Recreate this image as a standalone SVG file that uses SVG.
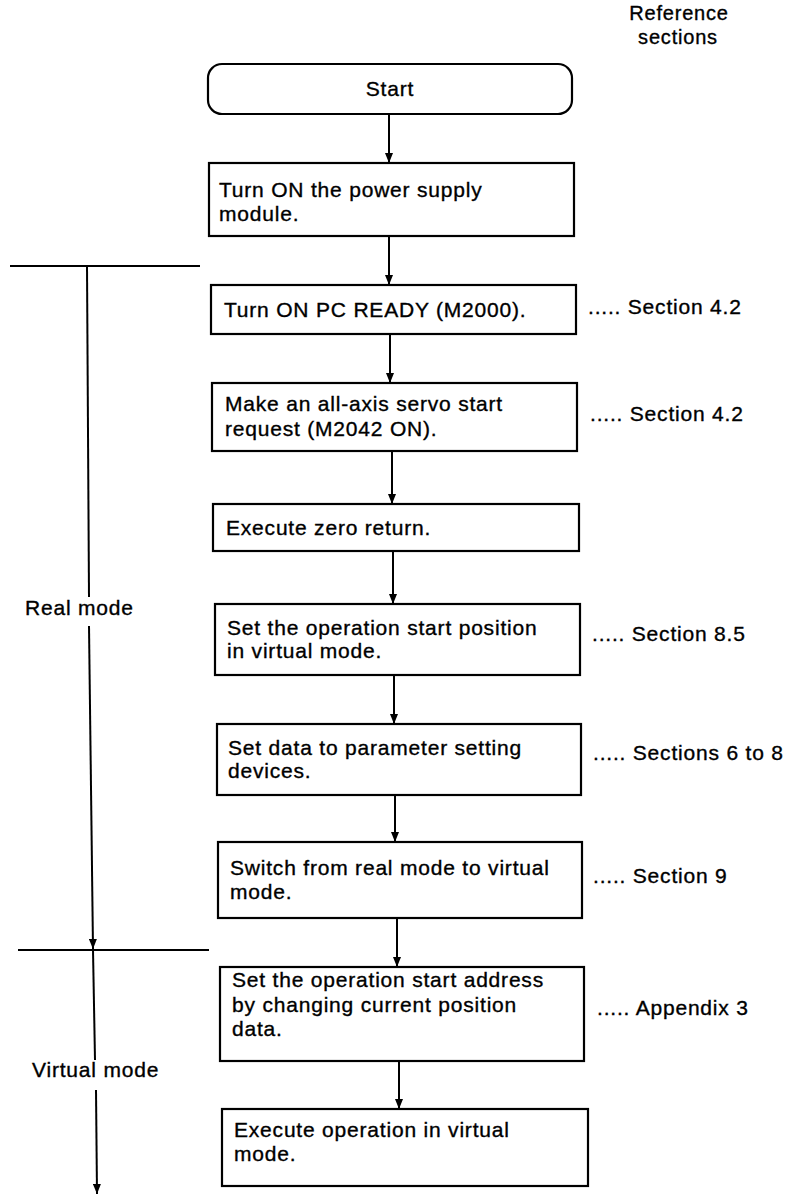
<svg xmlns="http://www.w3.org/2000/svg" width="786" height="1196" viewBox="0 0 786 1196">
  <style>
    .box { fill: #fff; stroke: #000; stroke-width: 2.2; }
    .txt { font-family: "Liberation Sans", Arial, Helvetica, sans-serif; font-size: 21px; letter-spacing: 0.8px; fill: #000; stroke: #000; stroke-width: 0.35px; }
    .head { font-size: 20px; }
    .mid { text-anchor: middle; }
    .ln { stroke: #000; stroke-width: 2; fill: none; }
    .arr { stroke: #000; stroke-width: 2; fill: none; marker-end: url(#head); }
  </style>
  <defs>
    <marker id="head" markerUnits="userSpaceOnUse" markerWidth="10" markerHeight="8" refX="10" refY="4" orient="auto">
      <path d="M0,0 L10,4 L0,8 z" fill="#000"/>
    </marker>
  </defs>
  <rect width="786" height="1196" fill="#fff"/>

  <!-- column heading -->
  <g id="heading">
    <text class="txt head mid" x="679" y="20">Reference</text>
    <text class="txt head mid" x="678" y="44">sections</text>
  </g>

  <!-- flow connectors -->
  <g id="connectors">
    <line class="arr" x1="389" y1="115" x2="389" y2="163"/>
    <line class="arr" x1="389" y1="237" x2="389" y2="285"/>
    <line class="arr" x1="390" y1="335" x2="390" y2="383"/>
    <line class="arr" x1="392" y1="452" x2="392" y2="504"/>
    <line class="arr" x1="393" y1="552" x2="393" y2="604"/>
    <line class="arr" x1="394" y1="676" x2="394" y2="724"/>
    <line class="arr" x1="395" y1="796" x2="395" y2="842"/>
    <line class="arr" x1="397" y1="919" x2="397" y2="967"/>
    <line class="arr" x1="399" y1="1062" x2="399" y2="1109"/>
  </g>

  <!-- mode ranges on the left -->
  <g id="mode-ranges">
    <line class="ln" x1="10" y1="266" x2="200" y2="266"/>
    <line class="ln" x1="87" y1="266" x2="89" y2="597"/>
    <line class="arr" x1="89" y1="626" x2="93" y2="949"/>
    <line class="ln" x1="18" y1="950" x2="209" y2="950"/>
    <line class="ln" x1="93" y1="950" x2="95" y2="1060"/>
    <line class="arr" x1="96" y1="1090" x2="97" y2="1194"/>
  </g>
  <g id="real-mode">
    <text class="txt" x="25" y="615">Real mode</text>
  </g>
  <g id="virtual-mode">
    <text class="txt" x="32" y="1077">Virtual mode</text>
  </g>

  <!-- steps -->
  <g id="start">
    <rect class="box" x="208" y="64" width="364" height="50" rx="14"/>
    <text class="txt mid" x="390" y="96">Start</text>
  </g>
  <g id="power-on">
    <rect class="box" x="209" y="163" width="365" height="73"/>
    <text class="txt" x="219" y="197">Turn ON the power supply</text>
    <text class="txt" x="219" y="221">module.</text>
  </g>
  <g id="pc-ready">
    <rect class="box" x="211" y="285" width="365" height="49"/>
    <text class="txt" x="224" y="317">Turn ON PC READY (M2000).</text>
    <text class="txt" x="588" y="314">..... Section 4.2</text>
  </g>
  <g id="servo-start">
    <rect class="box" x="212" y="383" width="365" height="68"/>
    <text class="txt" x="225" y="411">Make an all-axis servo start</text>
    <text class="txt" x="225" y="436">request (M2042 ON).</text>
    <text class="txt" x="590" y="421">..... Section 4.2</text>
  </g>
  <g id="zero-return">
    <rect class="box" x="213" y="504" width="366" height="47"/>
    <text class="txt" x="226" y="535">Execute zero return.</text>
  </g>
  <g id="start-position">
    <rect class="box" x="215" y="604" width="365" height="71"/>
    <text class="txt" x="227" y="635">Set the operation start position</text>
    <text class="txt" x="227" y="658">in virtual mode.</text>
    <text class="txt" x="592" y="641">..... Section 8.5</text>
  </g>
  <g id="parameter-data">
    <rect class="box" x="217" y="724" width="364" height="71"/>
    <text class="txt" x="228" y="755">Set data to parameter setting</text>
    <text class="txt" x="228" y="778">devices.</text>
    <text class="txt" x="593" y="760">..... Sections 6 to 8</text>
  </g>
  <g id="mode-switch">
    <rect class="box" x="218" y="842" width="364" height="76"/>
    <text class="txt" x="230" y="875">Switch from real mode to virtual</text>
    <text class="txt" x="230" y="899">mode.</text>
    <text class="txt" x="593" y="883">..... Section 9</text>
  </g>
  <g id="start-address">
    <rect class="box" x="220" y="967" width="364" height="94"/>
    <text class="txt" x="232" y="987">Set the operation start address</text>
    <text class="txt" x="232" y="1012">by changing current position</text>
    <text class="txt" x="232" y="1036">data.</text>
    <text class="txt" x="597" y="1015">..... Appendix 3</text>
  </g>
  <g id="virtual-run">
    <rect class="box" x="222" y="1109" width="366" height="77"/>
    <text class="txt" x="234" y="1137">Execute operation in virtual</text>
    <text class="txt" x="234" y="1161">mode.</text>
  </g>
</svg>
